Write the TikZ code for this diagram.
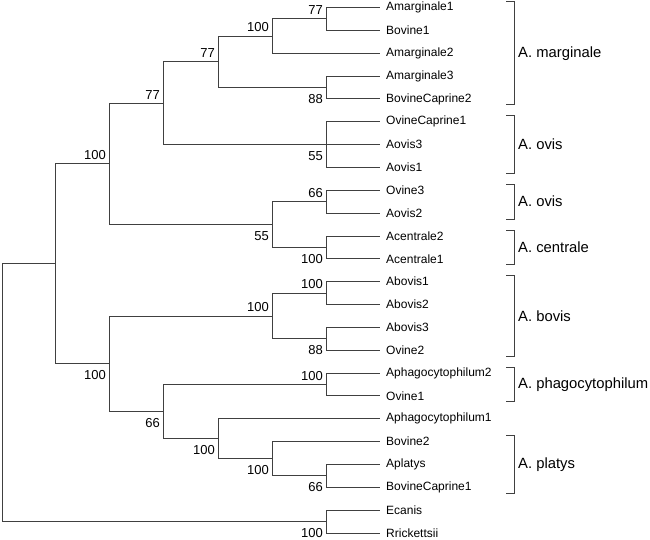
\documentclass[tikz,border=0pt]{standalone}
\usepackage{fontspec}
\setmainfont{Liberation Sans}
\begin{document}
\begin{tikzpicture}[x=1pt,y=-1pt,
  branch/.style={draw=black!75, line width=1pt},
  leaf/.style={anchor=west, inner xsep=6pt, inner ysep=0pt, font=\fontsize{12}{14}\selectfont},
  bsup/.style={anchor=south east, inner sep=0pt, font=\fontsize{13}{15}\selectfont},
  binf/.style={anchor=north east, inner sep=0pt, font=\fontsize{13}{15}\selectfont},
  clade/.style={anchor=west, inner sep=0pt, font=\fontsize{14.8}{17}\selectfont},
  bracket/.style={draw=black!75, line width=1pt}]
\useasboundingbox (0,0) rectangle (650,539);

% leaves
\node[leaf] (L0)  at (380,7.5)    {Amarginale1};
\node[leaf] (L1)  at (380,30.35)  {Bovine1};
\node[leaf] (L2)  at (380,53.2)   {Amarginale2};
\node[leaf] (L3)  at (380,76.05)  {Amarginale3};
\node[leaf] (L4)  at (380,98.9)   {BovineCaprine2};
\node[leaf] (L5)  at (380,121.75) {OvineCaprine1};
\node[leaf] (L6)  at (380,144.6)  {Aovis3};
\node[leaf] (L7)  at (380,167.45) {Aovis1};
\node[leaf] (L8)  at (380,190.3)  {Ovine3};
\node[leaf] (L9)  at (380,213.15) {Aovis2};
\node[leaf] (L10) at (380,236.0)  {Acentrale2};
\node[leaf] (L11) at (380,258.85) {Acentrale1};
\node[leaf] (L12) at (380,281.7)  {Abovis1};
\node[leaf] (L13) at (380,304.55) {Abovis2};
\node[leaf] (L14) at (380,327.4)  {Abovis3};
\node[leaf] (L15) at (380,350.25) {Ovine2};
\node[leaf] (L16) at (380,373.1)  {Aphagocytophilum2};
\node[leaf] (L17) at (380,395.95) {Ovine1};
\node[leaf] (L18) at (380,418.8)  {Aphagocytophilum1};
\node[leaf] (L19) at (380,441.65) {Bovine2};
\node[leaf] (L20) at (380,464.5)  {Aplatys};
\node[leaf] (L21) at (380,487.35) {BovineCaprine1};
\node[leaf] (L22) at (380,510.2)  {Ecanis};
\node[leaf] (L23) at (380,533.05) {Rrickettsii};

% internal nodes
\coordinate (a1)  at (326,18.9);
\coordinate (a2)  at (272,36.05);
\coordinate (a3)  at (326,87.5);
\coordinate (a4)  at (218,61.8);
\coordinate (ov)  at (326,144.6);
\coordinate (a5)  at (163,103.2);
\coordinate (ov2) at (326,201.7);
\coordinate (ce)  at (326,247.4);
\coordinate (a6)  at (272,224.6);
\coordinate (a7)  at (109,163.9);
\coordinate (bo1) at (326,293.1);
\coordinate (bo2) at (326,338.8);
\coordinate (bo)  at (272,316);
\coordinate (ph)  at (326,384.5);
\coordinate (pl2) at (326,475.9);
\coordinate (pl)  at (272,458.8);
\coordinate (b3)  at (218,438.8);
\coordinate (b2)  at (163,411.6);
\coordinate (b1)  at (109,363.8);
\coordinate (top) at (55,263.9);
\coordinate (ec)  at (326,521.6);
\coordinate (root) at (2,392.7);

% branches
\draw[branch] (a1) |- (L0.west) (a1) |- (L1.west);
\draw[branch] (a2) |- (a1) (a2) |- (L2.west);
\draw[branch] (a3) |- (L3.west) (a3) |- (L4.west);
\draw[branch] (a4) |- (a2) (a4) |- (a3);
\draw[branch] (ov) |- (L5.west) (ov) -- (L6.west) (ov) |- (L7.west);
\draw[branch] (a5) |- (a4) (a5) |- (ov);
\draw[branch] (ov2) |- (L8.west) (ov2) |- (L9.west);
\draw[branch] (ce) |- (L10.west) (ce) |- (L11.west);
\draw[branch] (a6) |- (ov2) (a6) |- (ce);
\draw[branch] (a7) |- (a5) (a7) |- (a6);
\draw[branch] (bo1) |- (L12.west) (bo1) |- (L13.west);
\draw[branch] (bo2) |- (L14.west) (bo2) |- (L15.west);
\draw[branch] (bo) |- (bo1) (bo) |- (bo2);
\draw[branch] (ph) |- (L16.west) (ph) |- (L17.west);
\draw[branch] (pl2) |- (L20.west) (pl2) |- (L21.west);
\draw[branch] (pl) |- (L19.west) (pl) |- (pl2);
\draw[branch] (b3) |- (L18.west) (b3) |- (pl);
\draw[branch] (b2) |- (ph) (b2) |- (b3);
\draw[branch] (b1) |- (bo) (b1) |- (b2);
\draw[branch] (top) |- (a7) (top) |- (b1);
\draw[branch] (ec) |- (L22.west) (ec) |- (L23.west);
\draw[branch] (root) |- (top) (root) |- (ec);

% bootstrap values
\node[bsup] (s1)  at ([xshift=-3pt,yshift=4pt]a1)  {77};
\node[bsup] (s2)  at ([xshift=-3pt,yshift=4pt]a2)  {100};
\node[binf] (s3)  at ([xshift=-3pt,yshift=-6.5pt]a3) {88};
\node[bsup] (s4)  at ([xshift=-3pt,yshift=4pt]a4)  {77};
\node[binf] (s5)  at ([xshift=-3pt,yshift=-6.5pt]ov) {55};
\node[bsup] (s6)  at ([xshift=-3pt,yshift=4pt]a5)  {77};
\node[bsup] (s7)  at ([xshift=-3pt,yshift=4pt]ov2) {66};
\node[binf] (s8)  at ([xshift=-3pt,yshift=-6.5pt]ce) {100};
\node[binf] (s9)  at ([xshift=-3pt,yshift=-6.5pt]a6) {55};
\node[bsup] (s10) at ([xshift=-3pt,yshift=4pt]a7)  {100};
\node[bsup] (s11) at ([xshift=-3pt,yshift=4pt]bo1) {100};
\node[binf] (s12) at ([xshift=-3pt,yshift=-6.5pt]bo2) {88};
\node[bsup] (s13) at ([xshift=-3pt,yshift=4pt]bo)  {100};
\node[bsup] (s14) at ([xshift=-3pt,yshift=4pt]ph)  {100};
\node[binf] (s15) at ([xshift=-3pt,yshift=-6.5pt]pl2) {66};
\node[binf] (s16) at ([xshift=-3pt,yshift=-6.5pt]pl) {100};
\node[binf] (s17) at ([xshift=-3pt,yshift=-6.5pt]b3) {100};
\node[binf] (s18) at ([xshift=-3pt,yshift=-6.5pt]b2) {66};
\node[binf] (s19) at ([xshift=-3pt,yshift=-6.5pt]b1) {100};
\node[binf] (s20) at ([xshift=-3pt,yshift=-6.5pt]ec) {100};

% clade brackets
\draw[bracket] (506,1.5) -- (514,1.5) -- (514,104.9) -- (506,104.9);
\node[clade] (c1) at (518,53.2) {A. marginale};
\draw[bracket] (506,115.75) -- (514,115.75) -- (514,173.45) -- (506,173.45);
\node[clade] (c2) at (518,144.6) {A. ovis};
\draw[bracket] (506,184.3) -- (514,184.3) -- (514,219.15) -- (506,219.15);
\node[clade] (c3) at (518,201.7) {A. ovis};
\draw[bracket] (506,230) -- (514,230) -- (514,264.85) -- (506,264.85);
\node[clade] (c4) at (518,247.4) {A. centrale};
\draw[bracket] (506,275.7) -- (514,275.7) -- (514,356.25) -- (506,356.25);
\node[clade] (c5) at (518,316) {A. bovis};
\draw[bracket] (506,367.1) -- (514,367.1) -- (514,401.95) -- (506,401.95);
\node[clade] (c6) at (518,384.5) {A. phagocytophilum};
\draw[bracket] (506,435.65) -- (514,435.65) -- (514,493.35) -- (506,493.35);
\node[clade] (c7) at (518,464.5) {A. platys};
\end{tikzpicture}
\end{document}
